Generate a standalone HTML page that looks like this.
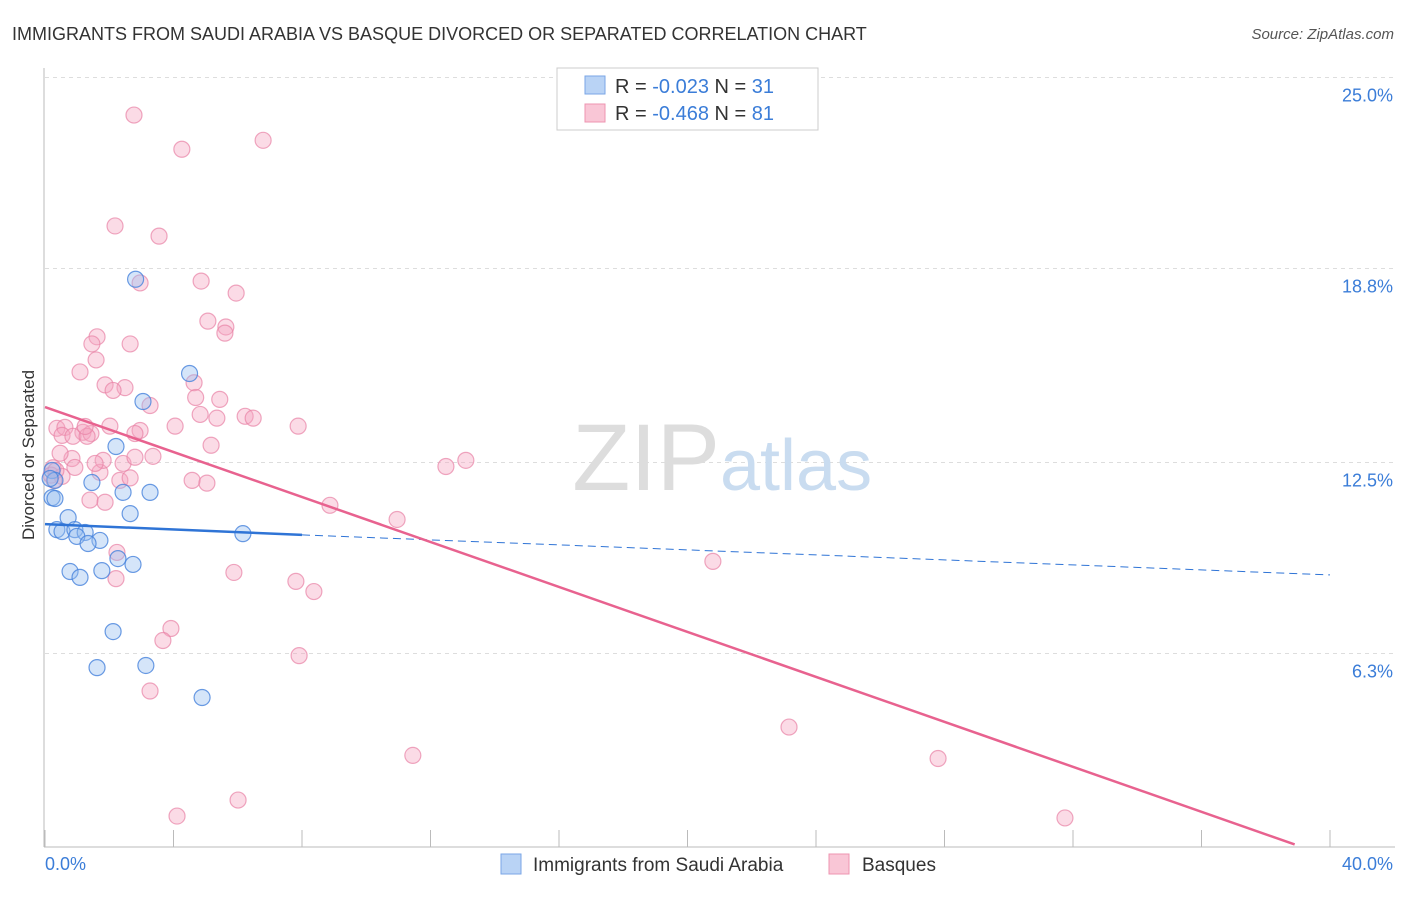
<!DOCTYPE html>
<html><head><meta charset="utf-8"><style>
body{margin:0;background:#fff;font-family:"Liberation Sans",sans-serif;}
svg text{font-family:"Liberation Sans",sans-serif;}
</style></head><body>
<svg id="chart" width="1406" height="892">
<text x="12" y="40" font-size="18" fill="#333">IMMIGRANTS FROM SAUDI ARABIA VS BASQUE DIVORCED OR SEPARATED CORRELATION CHART</text>
<text x="1394" y="39" font-size="15" fill="#555" font-style="italic" text-anchor="end">Source: ZipAtlas.com</text>
<text x="34" y="455" font-size="17" fill="#333" text-anchor="middle" transform="rotate(-90 34 455)">Divorced or Separated</text>
<g id="grid"></g>
<text x="720" y="490" font-size="95" fill="#ddd" text-anchor="end" font-family="Liberation Serif">ZIP</text>
<text x="720" y="490" font-size="72" fill="#c9dcf0">atlas</text>
<g id="marks"></g>
<g>
<rect x="557" y="68" width="261" height="62" fill="#fff" stroke="#ccc"/>
<rect x="585" y="76" width="20" height="18" fill="#b9d3f5" stroke="#7aa6e6"/>
<text x="615" y="93" font-size="20" fill="#333">R = <tspan fill="#3b7dd8">-0.023</tspan>   N = <tspan fill="#3b7dd8">31</tspan></text>
<rect x="585" y="104" width="20" height="18" fill="#f9c6d6" stroke="#ee94b0"/>
<text x="615" y="120" font-size="20" fill="#333">R = <tspan fill="#3b7dd8">-0.468</tspan>   N = <tspan fill="#3b7dd8">81</tspan></text>
</g>
<g>
<rect x="501" y="854" width="20" height="20" fill="#b9d3f5" stroke="#7aa6e6"/>
<text x="533" y="871" font-size="19" fill="#333">Immigrants from Saudi Arabia</text>
<rect x="829" y="854" width="20" height="20" fill="#f9c6d6" stroke="#ee94b0"/>
<text x="862" y="871" font-size="19" fill="#333">Basques</text>
</g>
</svg>
<script>
const yTicks=[6.3,12.5,18.8,25.0];
const xTickLabels=["0.0%","40.0%"];
const blueX=[2.82,4.50,3.05,2.21,1.46,2.43,3.27,0.22,0.31,2.65,0.72,6.16,0.37,0.53,0.93,1.25,0.99,1.71,1.34,2.27,2.74,0.78,1.77,1.09,2.12,1.62,3.14,4.89,0.22,0.31,0.16];
const blueY=[18.45,15.39,14.48,13.02,11.85,11.53,11.53,11.36,11.33,10.84,10.71,10.19,10.32,10.26,10.32,10.23,10.10,9.97,9.87,9.38,9.19,8.96,8.99,8.77,7.01,5.84,5.91,4.87,12.24,11.92,11.98];
const pinkX=[2.77,4.26,6.79,2.18,3.55,4.86,2.96,5.95,5.07,5.63,5.60,1.62,1.46,2.65,1.59,1.09,4.64,1.87,2.49,2.12,4.69,5.44,3.27,4.83,6.23,6.48,5.35,4.05,7.88,2.02,0.37,0.62,1.18,2.96,1.43,0.53,0.87,1.31,2.80,5.17,3.36,12.48,13.10,2.43,0.25,0.84,1.71,0.19,0.53,4.58,5.04,1.40,1.87,8.87,10.96,2.24,20.79,5.88,2.21,7.81,8.37,3.92,3.67,7.91,3.27,23.16,11.45,27.80,6.01,4.11,31.75,0.34,0.28,2.33,1.81,1.56,0.93,0.47,2.65,1.25,2.80];
const pinkY=[23.78,22.67,22.96,20.18,19.85,18.39,18.33,18.00,17.09,16.90,16.70,16.58,16.35,16.35,15.83,15.44,15.09,15.02,14.93,14.84,14.61,14.55,14.35,14.06,14.00,13.94,13.94,13.68,13.68,13.68,13.61,13.64,13.48,13.54,13.44,13.38,13.35,13.35,13.44,13.06,12.70,12.37,12.57,12.47,12.33,12.63,12.18,12.09,12.05,11.92,11.83,11.28,11.21,11.11,10.65,9.58,9.29,8.93,8.73,8.64,8.31,7.11,6.72,6.23,5.08,3.91,2.99,2.89,1.54,1.02,0.96,12.24,11.92,11.92,12.57,12.47,12.34,12.80,12.00,13.67,12.67];
const blueTrend=[[0,10.5],[8,10.15],[40,8.85]];
const pinkTrend=[[0,14.3],[38.9,0.1]];
const X=v=>45+v/40*1285, Y=v=>847.5-v/25*770;
const ns="http://www.w3.org/2000/svg";
const grid=document.getElementById('grid'), marks=document.getElementById('marks');
function mk(tag,attrs,parent){const e=document.createElementNS(ns,tag);for(const k in attrs)e.setAttribute(k,attrs[k]);parent.appendChild(e);return e;}
yTicks.forEach(t=>{
  const l=mk('line',{x1:45,x2:1395,y1:Y(t),y2:Y(t),stroke:'#ddd','stroke-dasharray':'4,4'},grid);
  
  
  const tx=mk('text',{x:1393,y:Y(t)+24,'font-size':18,fill:'#3b7dd8','text-anchor':'end'},grid);
  tx.textContent=t.toFixed(1)+'%';
  
  
});
mk('line',{x1:45,x2:1395,y1:Y(25),y2:Y(25),stroke:'#ddd','stroke-dasharray':'4,4'},grid);
const ax=mk('line',{x1:44,x2:44,y1:68,y2:847,stroke:'#bbb'},grid);


const bx=mk('line',{x1:44,x2:1395,y1:847,y2:847,stroke:'#bbb'},grid);


for(let i=0;i<=10;i++){const t=mk('line',{x1:X(i*4),x2:X(i*4),y1:830,y2:847,stroke:'#bbb'},grid);
  
  }
[[0,'start',45],[1,'end',1393]].forEach(([i,a,x])=>{const t=mk('text',{x:x,y:870,'font-size':18,fill:'#3b7dd8','text-anchor':a},grid);t.textContent=xTickLabels[i];
  
  });
pinkX.forEach((v,i)=>{const c=mk('circle',{cx:X(v),cy:Y(pinkY[i]),r:8,fill:'rgba(246,166,192,0.4)',stroke:'rgba(232,130,165,0.7)','stroke-width':1.2},marks);
  
  });
blueX.forEach((v,i)=>{const c=mk('circle',{cx:X(v),cy:Y(blueY[i]),r:8,fill:'rgba(150,190,240,0.4)',stroke:'rgba(70,130,220,0.8)','stroke-width':1.2},marks);
  
  });
const b1=mk('line',{x1:X(blueTrend[0][0]),y1:Y(blueTrend[0][1]),x2:X(blueTrend[1][0]),y2:Y(blueTrend[1][1]),stroke:'#2f74d6','stroke-width':2.5},marks);


const b2=mk('line',{x1:X(blueTrend[1][0]),y1:Y(blueTrend[1][1]),x2:X(blueTrend[2][0]),y2:Y(blueTrend[2][1]),stroke:'#2f74d6','stroke-width':1,'stroke-dasharray':'8,5'},marks);


const p1=mk('line',{x1:X(pinkTrend[0][0]),y1:Y(pinkTrend[0][1]),x2:X(pinkTrend[1][0]),y2:Y(pinkTrend[1][1]),stroke:'#e8628f','stroke-width':2.5},marks);


</script>
</body></html>
